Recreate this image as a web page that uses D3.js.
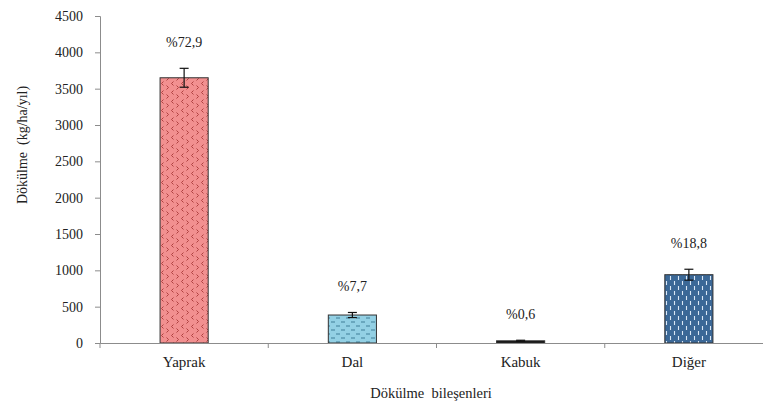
<!DOCTYPE html>
<html>
<head>
<meta charset="utf-8">
<script src="https://cdn.jsdelivr.net/npm/d3@7"></script>
<style>
  body { margin: 0; background: #fff; }
</style>
</head>
<body>
<svg id="chart" width="763" height="408" font-family="Liberation Serif"></svg>
<script>
const categories = ["Yaprak", "Dal", "Kabuk", "Diğer"];
const values = [3650, 385, 30, 940];
const errors = [130, 35, 8, 75];
const percentLabels = ["%72,9", "%7,7", "%0,6", "%18,8"];
const yTicks = [0, 500, 1000, 1500, 2000, 2500, 3000, 3500, 4000, 4500];

const width = 763, height = 408;
const margin = { top: 16, right: -10, bottom: 65, left: 100 };
const FONT = "Liberation Serif";

const svg = d3.select("#chart");

const x = d3.scaleBand()
  .domain(categories)
  .range([margin.left, width - margin.right])
  .paddingInner(0.714)
  .paddingOuter(0.357);

const y = d3.scaleLinear()
  .domain([0, 4500])
  .range([height - margin.bottom, margin.top]);

// patterns
const defs = svg.append("defs");

const p1 = defs.append("pattern").attr("id", "patYaprak")
  .attr("patternUnits", "userSpaceOnUse").attr("width", 10).attr("height", 9);
p1.append("rect").attr("width", 10).attr("height", 9).attr("fill", "#f29090");
p1.append("path").attr("d", "M3.5,0.5 L1.5,2.5 L3.5,4.5").attr("stroke", "#a83838").attr("stroke-width", 0.9).attr("fill", "none");
p1.append("path").attr("d", "M6.5,4.5 L8.5,6.5 L6.5,8.5").attr("stroke", "#a83838").attr("stroke-width", 0.9).attr("fill", "none");

const p2 = defs.append("pattern").attr("id", "patDal")
  .attr("patternUnits", "userSpaceOnUse").attr("width", 10).attr("height", 8);
p2.append("rect").attr("width", 10).attr("height", 8).attr("fill", "#93d0e4");
p2.append("line").attr("x1", 1).attr("x2", 5).attr("y1", 2).attr("y2", 2).attr("stroke", "#3f7e98").attr("stroke-width", 1);
p2.append("line").attr("x1", 6).attr("x2", 10).attr("y1", 6).attr("y2", 6).attr("stroke", "#3f7e98").attr("stroke-width", 1);

const p4 = defs.append("pattern").attr("id", "patDiger")
  .attr("patternUnits", "userSpaceOnUse").attr("width", 8).attr("height", 10);
p4.append("rect").attr("width", 8).attr("height", 10).attr("fill", "#3b6897");
p4.append("line").attr("x1", 2.5).attr("x2", 2.5).attr("y1", 1).attr("y2", 5).attr("stroke", "#dbe8f6").attr("stroke-width", 1.1);
p4.append("line").attr("x1", 6.5).attr("x2", 6.5).attr("y1", 6).attr("y2", 10).attr("stroke", "#dbe8f6").attr("stroke-width", 1.1);

const fills = ["url(#patYaprak)", "url(#patDal)", "#111", "url(#patDiger)"];

// y axis
const yAxis = svg.append("g")
  .attr("transform", `translate(${margin.left},0)`)
  .call(d3.axisLeft(y).tickValues(yTicks).tickSize(5).tickPadding(12).tickFormat(d3.format("d")));
yAxis.attr("font-family", FONT).attr("font-size", 14);
yAxis.select(".domain").attr("stroke", "#8c8c8c");
yAxis.selectAll(".tick line").attr("stroke", "#8c8c8c");
yAxis.selectAll(".tick text").attr("fill", "#222");

// bars
const bars = svg.append("g");
bars.selectAll("rect")
  .data(values)
  .join("rect")
  .attr("x", (d, i) => x(categories[i]))
  .attr("y", d => y(d))
  .attr("width", x.bandwidth())
  .attr("height", d => y(0) - y(d))
  .attr("fill", (d, i) => fills[i])
  .attr("stroke", "#333")
  .attr("stroke-width", 1);

// error bars
const eb = svg.append("g").attr("stroke", "#111").attr("stroke-width", 1.2);
values.forEach((v, i) => {
  const cx = x(categories[i]) + x.bandwidth() / 2;
  eb.append("line").attr("x1", cx).attr("x2", cx).attr("y1", y(v + errors[i])).attr("y2", y(v - errors[i]));
  eb.append("line").attr("x1", cx - 4.5).attr("x2", cx + 4.5).attr("y1", y(v + errors[i])).attr("y2", y(v + errors[i]));
  eb.append("line").attr("x1", cx - 4.5).attr("x2", cx + 4.5).attr("y1", y(v - errors[i])).attr("y2", y(v - errors[i]));
});

// x axis
const xAxis = svg.append("g")
  .attr("transform", `translate(0,${y(0)})`)
  .call(d3.axisBottom(x).tickSize(0).tickPadding(13));
xAxis.attr("font-family", FONT).attr("font-size", 15);
xAxis.select(".domain").attr("stroke", "#8c8c8c");
xAxis.selectAll(".tick text").attr("fill", "#222");

// boundary ticks between categories
const step = x.step();
const bounds = d3.range(categories.length + 1).map(i => x(categories[0]) - x.paddingOuter() * step + i * step);
svg.append("g").selectAll("line")
  .data(bounds)
  .join("line")
  .attr("x1", d => d).attr("x2", d => d)
  .attr("y1", y(0)).attr("y2", y(0) + 5)
  .attr("stroke", "#8c8c8c");

// percent labels
svg.append("g").selectAll("text")
  .data(percentLabels)
  .join("text")
  .attr("x", (d, i) => x(categories[i]) + x.bandwidth() / 2)
  .attr("y", (d, i) => y(values[i] + errors[i]) - 21)
  .attr("text-anchor", "middle")
  .attr("font-family", FONT)
  .attr("font-size", 14)
  .attr("fill", "#222")
  .text(d => d);

// axis titles
svg.append("text")
  .attr("transform", "translate(27,145) rotate(-90)")
  .attr("text-anchor", "middle")
  .attr("font-family", FONT)
  .attr("font-size", 14)
  .attr("fill", "#222")
  .style("white-space", "pre")
  .text("Dökülme  (kg/ha/yıl)");

svg.append("text")
  .attr("x", 431)
  .attr("y", 398)
  .attr("text-anchor", "middle")
  .attr("font-family", FONT)
  .attr("font-size", 14.5)
  .attr("fill", "#222")
  .style("white-space", "pre")
  .text("Dökülme  bileşenleri");
</script>
</body>
</html>
